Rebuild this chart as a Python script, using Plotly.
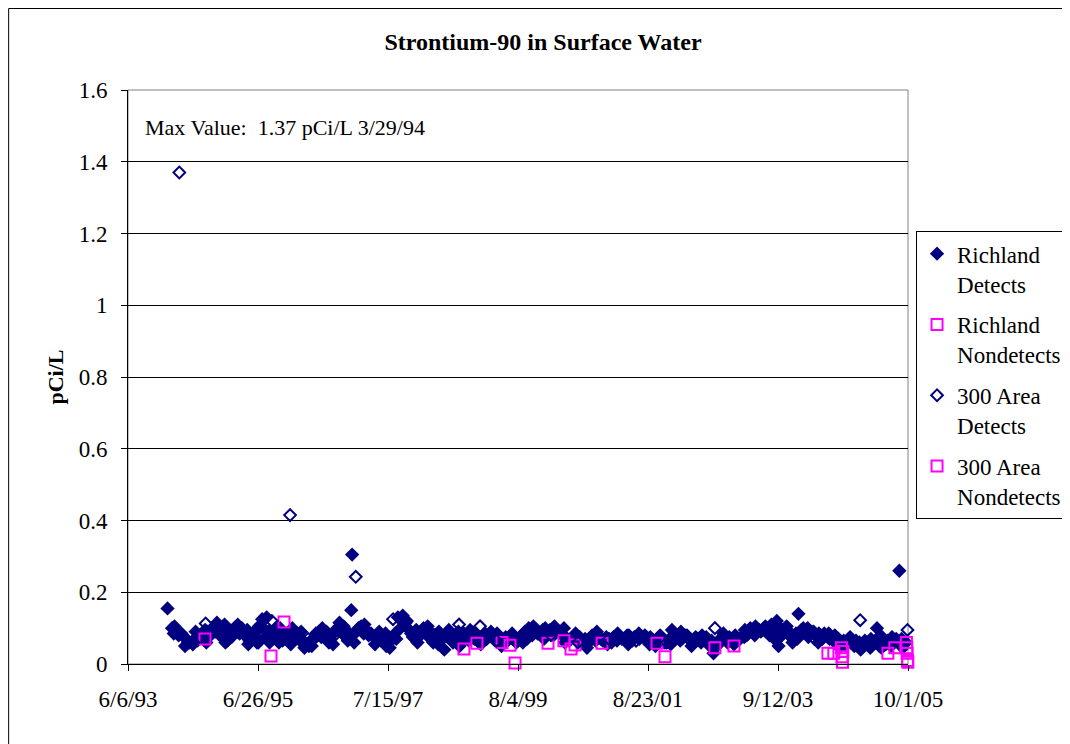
import plotly.graph_objects as go

# Richland detects (filled navy diamonds) - first sampling of each month
richland_dates = [
    "1994-01-20", "1994-02-15", "1994-03-12", "1994-04-10", "1994-05-08", "1994-05-25",
    "1994-06-15", "1994-07-12", "1994-08-10", "1994-09-08", "1994-10-05", "1994-11-02",
    "1994-11-25", "1994-12-15", "1994-12-20", "1995-01-15", "1995-02-12", "1995-03-12",
    "1995-04-10", "1995-05-08", "1995-06-05", "1995-06-28", "1995-07-20", "1995-08-15",
    "1995-08-28", "1995-09-15", "1995-10-12", "1995-10-25", "1995-11-15", "1995-12-12",
    "1996-01-10", "1996-02-08", "1996-03-05", "1996-03-20", "1996-04-15", "1996-05-15",
    "1996-06-12", "1996-07-10", "1996-08-08", "1996-08-25", "1996-09-10", "1996-10-08",
    "1996-11-05", "1996-11-25", "1996-12-15", "1996-12-20", "1997-01-15", "1997-02-10",
    "1997-03-10", "1997-04-08", "1997-05-08", "1997-06-05", "1997-07-05", "1997-07-25",
    "1997-08-12", "1997-09-10", "1997-10-08", "1997-11-05", "1997-12-05", "1998-01-08",
    "1998-02-05", "1998-03-05", "1998-04-02", "1998-05-05", "1998-06-05", "1998-07-05",
    "1998-08-05", "1998-09-05", "1998-10-05", "1998-11-05", "1998-12-05", "1999-01-08",
    "1999-02-05", "1999-03-05", "1999-04-05", "1999-05-05", "1999-06-05", "1999-07-05",
    "1999-08-05", "1999-09-05", "1999-10-05", "1999-11-05", "1999-12-05", "2000-01-08",
    "2000-02-05", "2000-03-05", "2000-04-05", "2000-05-05", "2000-06-05", "2000-07-05",
    "2000-08-05", "2000-09-05", "2000-10-05", "2000-11-05", "2000-12-05", "2001-01-08",
    "2001-02-05", "2001-03-05", "2001-04-05", "2001-05-05", "2001-06-05", "2001-07-05",
    "2001-08-05", "2001-09-05", "2001-10-05", "2001-11-05", "2001-12-05", "2002-01-08",
    "2002-02-05", "2002-03-05", "2002-04-05", "2002-05-05", "2002-06-05", "2002-07-05",
    "2002-08-05", "2002-09-05", "2002-10-05", "2002-11-05", "2002-12-05", "2003-01-08",
    "2003-02-05", "2003-03-05", "2003-04-05", "2003-05-05", "2003-06-05", "2003-07-05",
    "2003-08-05", "2003-09-05", "2003-09-15", "2003-10-05", "2003-11-05", "2003-12-05",
    "2004-01-08", "2004-02-05", "2004-03-05", "2004-04-05", "2004-05-05", "2004-06-05",
    "2004-07-05", "2004-08-05", "2004-09-05", "2004-10-05", "2004-11-05", "2004-12-05",
    "2005-01-08", "2005-02-05", "2005-03-05", "2005-04-05", "2005-05-05", "2005-06-05",
    "2005-07-05", "2005-08-12", "2005-08-25", "2005-09-20",
]
richland_values = [
    0.155, 0.100, 0.090, 0.085, 0.070, 0.060,
    0.055, 0.065, 0.080, 0.090, 0.100, 0.105,
    0.095, 0.110, 0.060, 0.090, 0.100, 0.085,
    0.080, 0.065, 0.075, 0.060, 0.125, 0.130,
    0.090, 0.070, 0.080, 0.060, 0.065, 0.075,
    0.100, 0.085, 0.060, 0.045, 0.050, 0.070,
    0.090, 0.075, 0.060, 0.080, 0.090, 0.115,
    0.080, 0.065, 0.150, 0.305, 0.090, 0.105,
    0.095, 0.085, 0.080, 0.065, 0.050, 0.045,
    0.070, 0.130, 0.135, 0.100, 0.075, 0.075,
    0.100, 0.095, 0.060, 0.090, 0.040, 0.080,
    0.070, 0.060, 0.075, 0.080, 0.085, 0.075,
    0.070, 0.080, 0.085, 0.060, 0.065, 0.070,
    0.065, 0.085, 0.100, 0.095, 0.085, 0.100,
    0.095, 0.100, 0.085, 0.075, 0.070, 0.065,
    0.060, 0.045, 0.080, 0.070, 0.065, 0.070,
    0.075, 0.080, 0.070, 0.080, 0.075, 0.070,
    0.080, 0.075, 0.050, 0.070, 0.060, 0.095,
    0.075, 0.070, 0.080, 0.060, 0.070, 0.065,
    0.055, 0.030, 0.065, 0.070, 0.075, 0.080,
    0.070, 0.095, 0.100, 0.105, 0.090, 0.090,
    0.110, 0.120, 0.050, 0.080, 0.095, 0.060,
    0.140, 0.100, 0.075, 0.090, 0.085, 0.085,
    0.070, 0.080, 0.050, 0.055, 0.060, 0.065,
    0.050, 0.060, 0.050, 0.100, 0.070, 0.065,
    0.060, 0.260, 0.070, 0.060,
]

# Richland detects - second sampling of each month
richland_dates_2 = [
    "1994-02-25", "1994-03-25", "1994-04-25", "1994-05-18", "1994-06-25", "1994-07-25",
    "1994-08-25", "1994-09-25", "1994-10-25", "1994-11-18", "1994-12-28",
    "1995-01-25", "1995-02-25", "1995-03-25", "1995-04-25", "1995-05-25", "1995-06-15",
    "1995-07-28", "1995-08-05", "1995-09-25", "1995-10-05", "1995-11-25", "1995-12-25",
    "1996-01-25", "1996-02-25", "1996-03-12", "1996-04-25", "1996-05-25", "1996-06-25",
    "1996-07-25", "1996-08-15", "1996-09-25", "1996-10-25", "1996-11-15", "1996-12-05",
    "1997-01-25", "1997-02-25", "1997-03-25", "1997-04-25", "1997-05-25", "1997-06-25",
    "1997-07-15", "1997-08-25", "1997-09-25", "1997-10-25", "1997-11-25", "1997-12-25",
    "1998-01-25", "1998-02-25", "1998-03-25", "1998-04-25", "1998-05-25", "1998-06-25",
    "1998-07-25", "1998-08-25", "1998-09-25", "1998-10-25", "1998-11-25", "1998-12-25",
    "1999-01-25", "1999-02-25", "1999-03-25", "1999-04-25", "1999-05-25", "1999-06-25",
    "1999-07-25", "1999-08-25", "1999-09-25", "1999-10-25", "1999-11-25", "1999-12-25",
    "2000-01-25", "2000-02-25", "2000-03-25", "2000-04-25", "2000-05-25", "2000-06-25",
    "2000-07-25", "2000-08-25", "2000-09-25", "2000-10-25", "2000-11-25", "2000-12-25",
    "2001-01-25", "2001-02-25", "2001-03-25", "2001-04-25", "2001-05-25", "2001-06-25",
    "2001-07-25", "2001-08-25", "2001-09-25", "2001-10-25", "2001-11-25", "2001-12-25",
    "2002-01-25", "2002-02-25", "2002-03-25", "2002-04-25", "2002-05-25", "2002-06-25",
    "2002-07-25", "2002-08-25", "2002-09-25", "2002-10-25", "2002-11-25", "2002-12-25",
    "2003-01-25", "2003-02-25", "2003-03-25", "2003-04-25", "2003-05-25", "2003-06-25",
    "2003-07-25", "2003-08-25", "2003-09-25", "2003-10-25", "2003-11-25", "2003-12-25",
    "2004-01-25", "2004-02-25", "2004-03-25", "2004-04-25", "2004-05-25", "2004-06-25",
    "2004-07-25", "2004-08-25", "2004-09-25", "2004-10-25", "2004-11-25", "2004-12-25",
    "2005-01-25", "2005-02-25", "2005-03-25", "2005-04-25", "2005-05-25", "2005-06-25",
    "2005-07-25", "2005-08-28",
]
richland_values_2 = [
    0.085, 0.080, 0.075, 0.060, 0.070, 0.075, 0.095, 0.080, 0.090, 0.080, 0.085,
    0.075, 0.090, 0.100, 0.095, 0.085, 0.090, 0.100, 0.075, 0.085, 0.100, 0.080, 0.090,
    0.070, 0.070, 0.065, 0.065, 0.085, 0.075, 0.090, 0.070, 0.100, 0.085, 0.095, 0.075,
    0.100, 0.085, 0.080, 0.075, 0.090, 0.080, 0.060, 0.085, 0.100, 0.115, 0.085, 0.095,
    0.090, 0.080, 0.075, 0.085, 0.070, 0.075, 0.060, 0.090, 0.085, 0.065, 0.070, 0.075,
    0.085, 0.080, 0.065, 0.070, 0.075, 0.080, 0.060, 0.075, 0.070, 0.080, 0.085, 0.095,
    0.085, 0.080, 0.090, 0.100, 0.065, 0.080, 0.075, 0.070, 0.065, 0.065, 0.070, 0.075,
    0.060, 0.065, 0.070, 0.080, 0.065, 0.080, 0.075, 0.065, 0.065, 0.075, 0.060, 0.070,
    0.080, 0.065, 0.080, 0.065, 0.075, 0.060, 0.075, 0.065, 0.050, 0.075, 0.060, 0.065,
    0.070, 0.080, 0.085, 0.090, 0.095, 0.100, 0.080, 0.095, 0.100, 0.100, 0.075, 0.085,
    0.095, 0.085, 0.090, 0.075, 0.070, 0.075, 0.065, 0.070, 0.065, 0.070, 0.050, 0.060,
    0.065, 0.045, 0.060, 0.080, 0.055, 0.050, 0.070, 0.050,
]

# Richland detects - extra samples (every other month)
richland_dates_3 = [
    "1994-03-01", "1994-05-01", "1994-07-01", "1994-09-01", "1994-11-01",
    "1995-01-01", "1995-03-01", "1995-05-01", "1995-07-01", "1995-09-01", "1995-11-01",
    "1996-01-01", "1996-03-01", "1996-05-01", "1996-07-01", "1996-09-01", "1996-11-01",
    "1997-01-01", "1997-03-01", "1997-05-01", "1997-07-01", "1997-09-01", "1997-11-01",
    "1998-01-01", "1998-03-01", "1998-05-01", "1998-07-01", "1998-09-01", "1998-11-01",
    "1999-01-01", "1999-03-01", "1999-05-01", "1999-07-01", "1999-09-01", "1999-11-01",
    "2000-01-01", "2000-03-01", "2000-05-01", "2000-07-01", "2000-09-01", "2000-11-01",
    "2001-01-01", "2001-03-01", "2001-05-01", "2001-07-01", "2001-09-01", "2001-11-01",
    "2002-01-01", "2002-03-01", "2002-05-01", "2002-07-01", "2002-09-01", "2002-11-01",
    "2003-01-01", "2003-03-01", "2003-05-01", "2003-07-01", "2003-09-01", "2003-11-01",
    "2004-01-01", "2004-03-01", "2004-05-01", "2004-07-01", "2004-09-01", "2004-11-01",
    "2005-01-01", "2005-03-01", "2005-05-01", "2005-07-01", "2005-09-01",
]
richland_values_3 = [
    0.105, 0.050, 0.090, 0.060, 0.115,
    0.065, 0.110, 0.055, 0.105, 0.060, 0.100,
    0.055, 0.090, 0.050, 0.100, 0.055, 0.105,
    0.060, 0.110, 0.055, 0.085, 0.070, 0.120,
    0.060, 0.105, 0.055, 0.095, 0.050, 0.095,
    0.055, 0.090, 0.050, 0.085, 0.060, 0.105,
    0.070, 0.105, 0.060, 0.085, 0.055, 0.090,
    0.055, 0.085, 0.055, 0.085, 0.055, 0.080,
    0.055, 0.090, 0.050, 0.080, 0.045, 0.085,
    0.055, 0.075, 0.080, 0.105, 0.065, 0.105,
    0.070, 0.100, 0.060, 0.085, 0.045, 0.075,
    0.040, 0.070, 0.045, 0.075, 0.045,
]

# Richland nondetects (open magenta squares)
richland_nd_dates = [
    "1994-08-24", "1995-09-09", "1995-11-23", "1998-09-26", "1998-12-10",
    "1999-05-04", "1999-06-19", "1999-07-18", "2000-01-24", "2000-04-25",
    "2000-06-05", "2000-06-28", "2000-12-01", "2001-10-14", "2001-11-29",
    "2002-09-13", "2003-01-01",
]
richland_nd_values = [
    0.070, 0.022, 0.117, 0.042, 0.058,
    0.060, 0.052, 0.003, 0.058, 0.065,
    0.042, 0.053, 0.058, 0.058, 0.020,
    0.045, 0.050,
]

# 300 Area detects (open navy diamonds)
area300_dates = [
    "1994-03-29", "1994-06-20", "1994-08-28", "1994-12-01", "1995-06-20",
    "1995-09-14", "1995-12-28", "1996-04-10", "1996-09-01", "1997-01-10",
    "1997-04-15", "1997-08-13", "1997-12-20", "1998-04-10", "1998-08-29",
    "1998-12-28", "1999-04-01", "1999-09-13", "2000-02-10", "2000-07-15",
    "2001-01-10", "2001-06-15", "2001-12-10", "2002-04-20", "2002-09-13",
    "2003-03-15", "2003-09-25", "2004-04-10", "2004-08-15", "2004-12-29",
    "2005-04-20", "2005-09-28",
]
area300_values = [
    1.370, 0.060, 0.113, 0.100, 0.060,
    0.120, 0.415, 0.070, 0.075, 0.243,
    0.080, 0.125, 0.070, 0.080, 0.110,
    0.105, 0.065, 0.090, 0.080, 0.060,
    0.070, 0.065, 0.060, 0.070, 0.100,
    0.080, 0.095, 0.070, 0.060, 0.122,
    0.050, 0.095,
]

# 300 Area nondetects (open magenta squares)
area300_nd_dates = [
    "2004-06-26", "2004-07-30", "2004-09-12", "2004-09-15", "2004-09-18",
    "2004-09-20", "2005-06-07", "2005-07-17", "2005-09-22", "2005-09-24",
    "2005-09-26", "2005-09-28", "2005-09-30",
]
area300_nd_values = [
    0.030, 0.030, 0.045, 0.020, 0.005,
    0.035, 0.030, 0.045, 0.060, 0.045,
    0.030, 0.010, 0.005,
]

tick_dates = ["1993-06-06", "1995-06-26", "1997-07-15", "1999-08-04",
              "2001-08-23", "2003-09-12", "2005-10-01"]
tick_labels = ["6/6/93", "6/26/95", "7/15/97", "8/4/99", "8/23/01", "9/12/03", "10/1/05"]

NAVY = "#000080"
MAGENTA = "#FF00FF"
FONT = "Liberation Serif"

fig = go.Figure()

fig.add_trace(go.Scatter(
    x=richland_dates + richland_dates_2 + richland_dates_3,
    y=richland_values + richland_values_2 + richland_values_3,
    mode="markers", name="Richland<br>Detects", legendgroup="a", cliponaxis=False,
    marker=dict(symbol="diamond", size=11, color=NAVY, line=dict(width=0)),
))
fig.add_trace(go.Scatter(
    x=richland_nd_dates, y=richland_nd_values, mode="markers", name="Richland<br>Nondetects",
    legendgroup="b", cliponaxis=False,
    marker=dict(symbol="square-open", size=11, color=MAGENTA, line=dict(width=2)),
))
fig.add_trace(go.Scatter(
    x=area300_dates, y=area300_values, mode="markers", name="300 Area<br>Detects",
    legendgroup="c", cliponaxis=False,
    marker=dict(symbol="diamond-open", size=9, color=NAVY, line=dict(width=2)),
))
fig.add_trace(go.Scatter(
    x=area300_nd_dates, y=area300_nd_values, mode="markers", name="300 Area<br>Nondetects",
    legendgroup="d", cliponaxis=False,
    marker=dict(symbol="square-open", size=11, color=MAGENTA, line=dict(width=2)),
))

fig.update_layout(
    width=1070, height=744,
    margin=dict(l=120, r=169, t=82, b=88),
    paper_bgcolor="white", plot_bgcolor="white",
    font=dict(family=FONT, size=23, color="black"),
    title=dict(text="<b>Strontium-90 in Surface Water</b>", x=0.5, xref="container",
               xanchor="center", y=1 - 34 / 744, yanchor="middle",
               font=dict(family=FONT, size=24)),
    showlegend=True,
    legend=dict(x=1.009, y=0.754, xanchor="left", yanchor="top", valign="top",
                bordercolor="black", borderwidth=1, bgcolor="white",
                font=dict(family=FONT, size=23), tracegroupgap=8,
                itemsizing="trace"),
    annotations=[dict(
        text="Max Value:\u00a0 1.37 pCi/L 3/29/94", xref="paper", yref="paper",
        x=0.019, y=0.9355, xanchor="left", yanchor="middle", showarrow=False,
        font=dict(family=FONT, size=22),
    )],
    shapes=[
        # plot-area frame
        dict(type="rect", xref="paper", yref="paper", x0=0, x1=1, y0=0, y1=1,
             line=dict(color="#808080", width=1), layer="below"),
        # chart-area border (left and top edges visible)
        dict(type="line", xref="paper", yref="paper", x0=-119.5 / 781, x1=-119.5 / 781,
             y0=-0.2, y1=655.5 / 574, line=dict(color="black", width=1)),
        dict(type="line", xref="paper", yref="paper", x0=-119.5 / 781, x1=1.3,
             y0=655.5 / 574, y1=655.5 / 574, line=dict(color="black", width=1)),
    ],
)

fig.update_xaxes(
    type="date", range=["1993-06-06", "2005-10-01"],
    tickvals=tick_dates, ticktext=tick_labels,
    showgrid=False, zeroline=False,
    showline=True, linecolor="black", linewidth=1,
    ticks="outside", ticklen=6, tickcolor="black", ticklabelstandoff=8,
    tickfont=dict(family=FONT, size=23),
)
fig.update_yaxes(
    range=[0, 1.6], dtick=0.2, tick0=0,
    showgrid=True, gridcolor="black", gridwidth=1, zeroline=False,
    showline=True, linecolor="black", linewidth=1,
    ticks="outside", ticklen=6, tickcolor="black", ticklabelstandoff=9,
    tickfont=dict(family=FONT, size=23),
    title=dict(text="<b>pCi/L</b>", font=dict(family=FONT, size=22), standoff=8),
)

fig.write_html("out.html")
